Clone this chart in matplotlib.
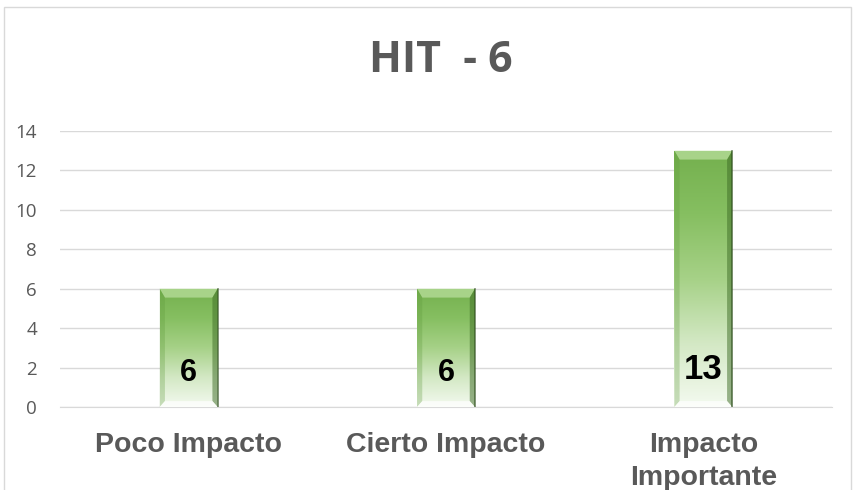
import numpy as np
import matplotlib.pyplot as plt
from matplotlib.patches import Rectangle
from matplotlib.colors import LinearSegmentedColormap
from matplotlib.transforms import blended_transform_factory

categories = ['Poco Impacto', 'Cierto Impacto', 'Impacto\nImportante']
values = [6, 6, 13]
yticks = [0, 2, 4, 6, 8, 10, 12, 14]

W, H = 861, 490
fig = plt.figure(figsize=(W / 100, H / 100), dpi=100)
ax = fig.add_axes([60 / W, 1 - 407 / H, 772 / W, 276 / H])

# chart border
fig.patches.append(Rectangle((4 / W, -0.01), 847 / W, 1 - 7 / H + 0.01,
                             transform=fig.transFigure, fill=False,
                             edgecolor='#d9d9d9', linewidth=1))

x = np.arange(len(categories))
width = 0.225
ax.set_xlim(-0.5, 2.5)
ax.set_ylim(0, 14)

green = LinearSegmentedColormap.from_list(
    'g', ['#f4faf0', '#d3e8c4', '#a6d187', '#86bf61', '#74b04e'])
grad = np.linspace(0, 1, 256).reshape(-1, 1)

bars = ax.bar(x, values, width, color='none', zorder=3)
for b in bars:
    x0, w, h = b.get_x(), b.get_width(), b.get_height()
    im = ax.imshow(grad, cmap=green, origin='lower', aspect='auto',
                   extent=(x0, x0 + w, 0, h), zorder=3)
    im.set_clip_path(b)
    # bevel edges
    e = w * 0.09
    ax.add_patch(plt.Polygon([(x0, h), (x0 + w, h), (x0 + w - e, h - 0.45), (x0 + e, h - 0.45)],
                             closed=True, color='#b5dc98', alpha=0.8, zorder=4, lw=0))
    ax.add_patch(plt.Polygon([(x0, 0), (x0 + e, 0.3), (x0 + e, h - 0.45), (x0, h)],
                             closed=True, color='#5f9a3c', alpha=0.3, zorder=4, lw=0))
    ax.add_patch(plt.Polygon([(x0 + w, 0), (x0 + w - e, 0.3), (x0 + w - e, h - 0.45), (x0 + w, h)],
                             closed=True, color='#3d6b25', alpha=0.5, zorder=4, lw=0))
    ax.add_patch(plt.Polygon([(x0, 0), (x0 + w, 0), (x0 + w - e, 0.3), (x0 + e, 0.3)],
                             closed=True, color='white', alpha=0.7, zorder=4, lw=0))
    ax.plot([x0 + w, x0 + w], [0, h], color='#2f4f1e', lw=1.2, alpha=0.7, zorder=5)

for xi, v in zip(x, values):
    big = v >= 10
    ax.text(xi, 1.9 if big else 1.7, str(v), ha='center', va='center',
            fontsize=25 if big else 22, fontweight='bold', family='Liberation Sans',
            color='black', zorder=6)

ax.set_yticks(yticks)
ax.grid(axis='y', color='#d9d9d9', linewidth=1, zorder=0)
ax.set_axisbelow(True)
for s in ['top', 'right', 'left']:
    ax.spines[s].set_visible(False)
ax.spines['bottom'].set_color('#d9d9d9')
ax.tick_params(axis='both', length=0)
ax.tick_params(axis='y', pad=16.5, labelsize=13.5, labelcolor='#595959')
for lab in ax.get_yticklabels():
    lab.set_family('Open Sans')

# category labels, one text per line
ax.set_xticks(x)
ax.set_xticklabels([])
tr = blended_transform_factory(ax.transData, fig.transFigure)
for xi, cat in zip(x, categories):
    for i, line in enumerate(cat.split('\n')):
        ax.text(xi, 1 - (452 + 33 * i) / H, line, transform=tr, ha='center',
                va='baseline', fontsize=20.5, fontweight='bold',
                family='Liberation Sans', color='#595959')

fig.text(441 / W, 1 - 72 / H, 'HIT  - 6', ha='center', va='baseline',
         fontsize=31, fontweight='bold', family='Open Sans', color='#595959')

fig.savefig('out.png', dpi=100)
